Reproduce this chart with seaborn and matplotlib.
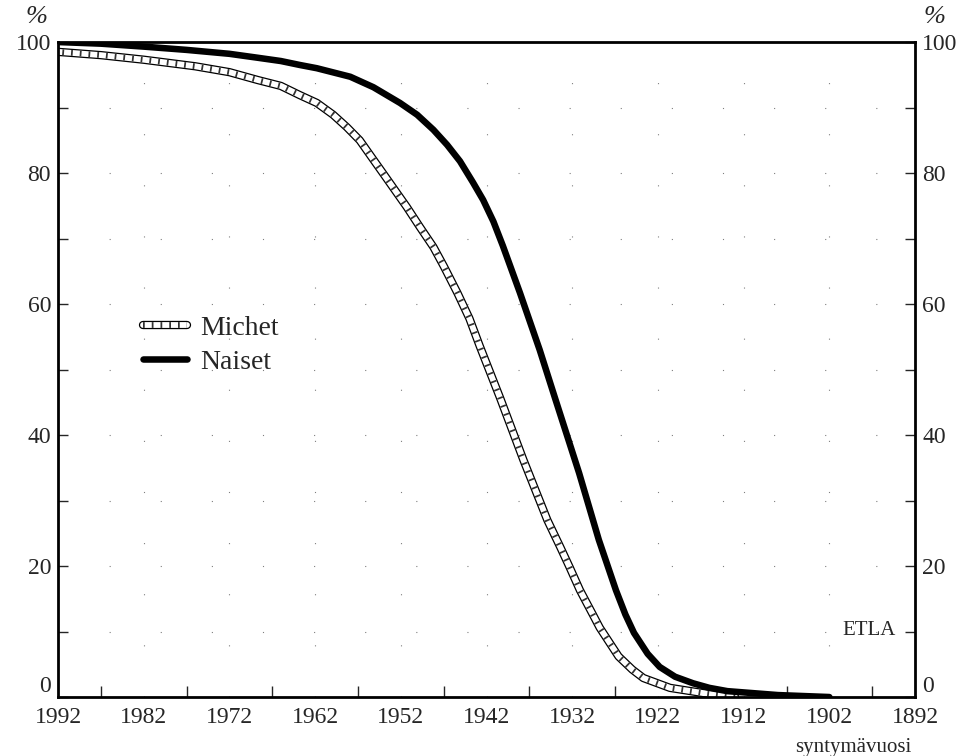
import matplotlib
matplotlib.use('Agg')
import matplotlib.pyplot as plt
import numpy as np
import pandas as pd
import seaborn as sns
from matplotlib.ticker import MultipleLocator
from matplotlib.lines import Line2D

# Osuus (%) syntymävuoden mukaan, luettu kuvasta
vuodet_naiset = [1992, 1987, 1982, 1977, 1972, 1968.7, 1966, 1963.8, 1961.8, 1957.9,
                 1955.2, 1952.1, 1950.1, 1948.2, 1946.6, 1945.1, 1943.6, 1942.4,
                 1941.2, 1940.1, 1938.1, 1935.8, 1934.0, 1931.2, 1928.9, 1926.9,
                 1925.8, 1924.8, 1923.2, 1921.8, 1920, 1917.9, 1916, 1913.9, 1908, 1902]
naiset = [100, 99.75, 99.3, 98.8, 98.2, 97.6, 97.1, 96.5, 96.0, 94.7,
          93.1, 90.7, 88.9, 86.6, 84.3, 81.8, 78.6, 75.9,
          72.6, 68.9, 61.7, 53.0, 45.6, 34.2, 24.0, 16.3,
          12.6, 9.8, 6.6, 4.6, 3.1, 2.1, 1.4, 0.9, 0.3, 0.0]

vuodet_miehet = [1992, 1987, 1982, 1976, 1972, 1968.7, 1966, 1963.8, 1961.8, 1959.9,
                 1958.3, 1956.8, 1955.4, 1954.1, 1952.7, 1951.3, 1949.8, 1948.2,
                 1947, 1945.4, 1944, 1942.8, 1940.4, 1937.7, 1934.9, 1933.4,
                 1932.3, 1931.1, 1929.6, 1928.8, 1926.6, 1925, 1923.7, 1920.6,
                 1916.7, 1913]
miehet = [98.5, 98.0, 97.3, 96.3, 95.4, 94.2, 93.3, 91.9, 90.7, 88.9,
          87.0, 85.0, 82.4, 80.0, 77.4, 74.8, 71.8, 68.7,
          65.8, 61.7, 57.8, 53.6, 45.6, 36.2, 27.0, 22.9,
          19.8, 16.3, 12.6, 10.6, 6.2, 4.2, 2.9, 1.4,
          0.6, 0.0]

y_ticks = [0, 20, 40, 60, 80, 100]
x_ticks = [1992, 1982, 1972, 1962, 1952, 1942, 1932, 1922, 1912, 1902, 1892]

df_n = pd.DataFrame({'vuosi': vuodet_naiset, 'osuus': naiset})
df_m = pd.DataFrame({'vuosi': vuodet_miehet, 'osuus': miehet})

sns.set_style('white')
plt.rcParams['font.family'] = ['Liberation Serif', 'DejaVu Serif']

fig = plt.figure(figsize=(9.77, 7.56), dpi=100)
ax = fig.add_axes([0.0594, 0.078, 0.8772, 0.8664])

# harva pisteviivaruudukko
ax.grid(True, which='major', color='black', linewidth=0.8,
        linestyle=(0, (1, 45)), alpha=0.5)
ax.grid(True, which='minor', axis='y', color='black', linewidth=0.8,
        linestyle=(0, (1, 45)), alpha=0.5)

# Miehet: viivoitettu "tikapuu" -nauha
ladder = (0, (0.3, 1.2))
sns.lineplot(data=df_m, x='vuosi', y='osuus', ax=ax, color='black', linewidth=6.0,
             solid_joinstyle='round')
sns.lineplot(data=df_m, x='vuosi', y='osuus', ax=ax, color='white', linewidth=4.2,
             solid_joinstyle='round')
sns.lineplot(data=df_m, x='vuosi', y='osuus', ax=ax, color='#333333', linewidth=4.2,
             linestyle=ladder)
# Naiset: paksu musta viiva
sns.lineplot(data=df_n, x='vuosi', y='osuus', ax=ax, color='black', linewidth=4.7,
             solid_joinstyle='round')

ax.set_xlim(1992, 1892)
ax.set_ylim(0, 100)
ax.set_xlabel('')
ax.set_ylabel('')

for s in ax.spines.values():
    s.set_linewidth(2)
    s.set_color('black')

ax.set_xticks(x_ticks)
ax.set_xticklabels([str(v) for v in x_ticks], fontsize=17)
ax.xaxis.set_minor_locator(MultipleLocator(1))
ax.tick_params(axis='x', which='major', direction='in', length=16, width=1.2, pad=7)
ax.tick_params(axis='x', which='minor', direction='in', length=4, width=1)
sec = ax.secondary_xaxis('bottom')
sec.set_xticks(np.arange(1987, 1892, -10))
sec.set_xticklabels([])
sec.tick_params(direction='in', length=8, width=1)
sec.spines['bottom'].set_visible(False)

ax.set_yticks(y_ticks)
ax.set_yticklabels([str(v) for v in y_ticks], fontsize=17)
ax.yaxis.set_minor_locator(MultipleLocator(10))
ax.tick_params(axis='y', which='both', direction='in', length=7, width=1,
               left=True, right=True, labelleft=True, labelright=True, pad=5)
zero_tick = ax.yaxis.get_major_ticks()[0]
zero_tick.label1.set_va('bottom')
zero_tick.label2.set_va('bottom')

ax.text(-0.025, 1.022, '%', transform=ax.transAxes, fontsize=19,
        style='italic', ha='center', va='bottom')
ax.text(1.023, 1.022, '%', transform=ax.transAxes, fontsize=19,
        style='italic', ha='center', va='bottom')
ax.text(0.977, 0.102, 'ETLA', transform=ax.transAxes, fontsize=15,
        ha='right', va='center')
ax.text(0.928, -0.062, 'syntymävuosi', transform=ax.transAxes, fontsize=15,
        ha='center', va='top')

# selite
h_m = (Line2D([], [], color='black', linewidth=6.0),
       Line2D([], [], color='white', linewidth=4.2),
       Line2D([], [], color='#333333', linewidth=4.2, linestyle=ladder))
h_n = Line2D([], [], color='black', linewidth=4.7)
ax.legend([h_m, h_n], ['Michet', 'Naiset'], loc='center left',
          bbox_to_anchor=(0.099, 0.537), frameon=False, fontsize=20,
          handlelength=1.6, handletextpad=0.47, labelspacing=0.3,
          borderpad=0, borderaxespad=0)

fig.savefig('out.png', dpi=100)
